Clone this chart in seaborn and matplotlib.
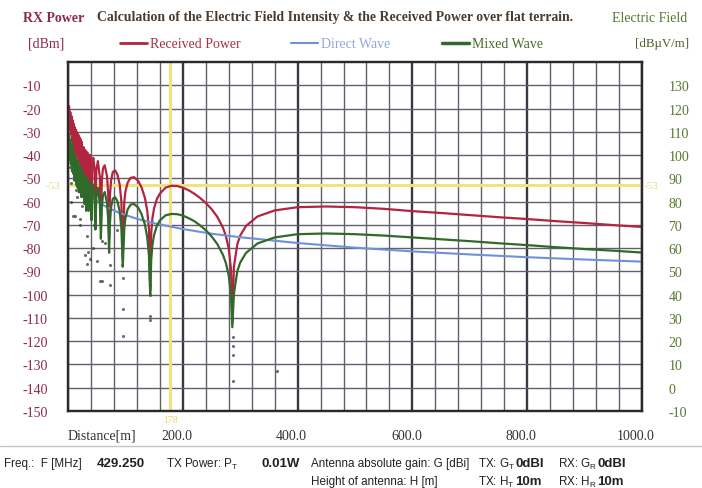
import matplotlib
matplotlib.use("Agg")
import matplotlib.pyplot as plt
from matplotlib.lines import Line2D
from matplotlib.transforms import ScaledTranslation
import seaborn as sns

# sample distances [m] shared by the received power and mixed wave traces
distance = [2, 3, 4, 5, 6, 7, 8, 9, 10, 11, 12, 13, 14, 15, 16, 17, 18, 19, 20, 21, 22, 23, 24,
            25.5, 27.3, 28.6, 30.1, 31.8, 33.7, 35.8, 37, 38.2, 39.5,
            40.9, 42, 44, 46, 47.7, 49.5, 52, 55.5, 57.3, 59,
            61, 64, 68, 70, 71.6, 73, 75, 78, 82, 86,
            90, 93, 95.4, 98, 100, 104, 109, 115, 122, 128,
            134, 138, 141, 143.2, 145, 147, 150, 155, 160, 170,
            180, 190, 200, 210, 220, 230, 240, 250, 260, 270,
            275, 280, 284, 286.3, 289, 295, 300, 310, 330, 360,
            400, 450, 500, 550, 600, 650, 700, 750, 800, 850,
            900, 950, 1000]

# received power [dBm], left axis
received_power = [-19.0, -29, -21.5, -31, -23.3, -34, -25.0, -35, -26.6, -38, -28.0, -37, -29.2, -40,
                  -30.3, -41, -31.3, -43, -32.3, -42, -33.3, -45, -34.4,
                  -46, -36.6, -49, -37.8, -52, -38.8, -56, -42.3, -39.9, -43.3,
                  -60, -46.0, -41.2, -45.3, -64, -46.2, -42.6, -49.5, -70, -50.5,
                  -45.7, -44.4, -49.2, -56.2, -76, -57.8, -51.0, -47.3, -46.6, -48.3,
                  -52.6, -59.9, -84, -60.3, -55.7, -51.8, -49.8, -49.5, -51.0, -53.8,
                  -58.4, -63.8, -71.6, -98, -73.5, -67.3, -62.8, -58.8, -56.6, -54.0,
                  -53.2, -53.3, -54.0, -55.1, -56.6, -58.4, -60.6, -63.2, -66.5, -71.2,
                  -74.8, -80.1, -89.1, -112, -88.1, -78.3, -74.6, -70.5, -66.4, -63.8,
                  -62.4, -62.1, -62.4, -63.1, -64.1, -64.9, -65.8, -66.7, -67.5, -68.4,
                  -69.2, -70.1, -70.9]

# mixed wave field strength [dBuV/m], right axis
mixed_wave = [109, 98, 106.5, 96, 104.7, 93, 103, 92, 101.4, 89, 100, 90, 98.8, 87,
              97.7, 86, 96.7, 84, 95.7, 85, 94.7, 82, 93.6,
              82, 91.9, 79, 90.7, 76, 89.7, 76, 86.2, 88.6, 85.2,
              72, 82.5, 87.3, 83.2, 68, 82.3, 85.9, 79.0, 64, 78.0,
              82.8, 84.1, 79.3, 72.3, 58, 70.7, 77.5, 81.2, 81.9, 80.2,
              75.9, 68.6, 52, 68.2, 72.8, 76.7, 78.7, 79.0, 77.5, 74.7,
              70.1, 64.7, 56.9, 40, 55.0, 61.2, 65.7, 69.7, 71.9, 74.1,
              74.7, 74.6, 74.0, 72.9, 71.6, 69.8, 67.7, 65.1, 61.8, 57.1,
              53.6, 48.3, 39.3, 26, 40.3, 50.1, 53.8, 57.9, 62.0, 64.6,
              66.0, 66.3, 66.0, 65.4, 64.6, 63.8, 63.0, 62.1, 61.3, 60.4,
              59.6, 58.9, 58.1]

# direct wave field strength [dBuV/m], right axis
direct_distance = [2, 4, 7, 10, 15, 20, 30, 40, 55, 70, 90, 120, 150, 200, 250, 300,
                   400, 500, 600, 700, 800, 900, 1000]
direct_wave = [108.2, 102.2, 97.3, 94.2, 90.7, 88.2, 84.7, 82.2, 79.4, 77.3, 75.1, 72.6, 70.7,
               68.2, 66.2, 64.7, 62.2, 60.2, 58.6, 57.3, 56.1, 55.1, 54.2]

# stray sample dots below the traces [m], [dBm]
dot_distance = [3, 5, 6, 8.7, 10, 12, 14, 15, 18, 20.9, 20.9, 24, 25, 28, 29.6, 33, 33, 35,
                38.3, 40, 43.5, 45, 50.4, 55.7, 59, 59, 65, 73, 73, 85, 94,
                95.7, 95.7, 95.7, 142.6, 142.6, 142.6, 142.6, 287, 287, 287, 287, 363.5]
dot_power = [-45, -60, -52, -66, -48, -66, -55, -58, -50, -67.4, -70, -57, -62, -53, -83, -87, -74.6, -81.7,
             -84.6, -63, -80, -70, -85.7, -94, -94, -77, -78, -96, -87.4, -72, -87.4,
             -106, -117.6, -93, -109, -111, -100, -96, -118, -122, -126, -137, -132.6]

x_ticks = [200, 400, 600, 800, 1000]
x_minor = list(range(0, 1001, 40))
power_ticks = list(range(-150, 0, 10))
field_ticks = list(range(-10, 140, 10))
cursor_distance = 178
cursor_power = -53

RED = "#b3243f"
GREEN = "#2f6a2a"
BLUE = "#7090d8"
MAROON = "#8b2a4c"
OLIVE = "#587830"

sns.set_theme(style="white")
plt.rcParams["font.family"] = ["Liberation Serif", "DejaVu Serif"]
plt.rcParams["axes.unicode_minus"] = False
plt.rcParams["mathtext.fontset"] = "custom"
plt.rcParams["mathtext.rm"] = "Liberation Sans"

W, H = 702, 489
fig = plt.figure(figsize=(W / 100, H / 100), dpi=100)
fig.patch.set_facecolor("white")


def fx(px):
    return px / W


def fy(py):
    return 1 - py / H


ax = fig.add_axes([fx(68), fy(412), (642 - 68) / W, (412 - 63) / H])
ax.set_xlim(0, 1000)
ax.set_ylim(-150, 0)

ax.set_xticks(x_ticks, labels=[f"{v:.1f}" for v in x_ticks])
ax.set_xticks(x_minor, minor=True)
ax.set_yticks(power_ticks, labels=[str(v) for v in power_ticks], ha="left")
ax.tick_params(axis="x", which="both", length=0, pad=13, labelsize=10, labelcolor="#333333")
ax.tick_params(axis="y", length=0, pad=32.5, labelsize=10, labelcolor=MAROON)
shift = ScaledTranslation(-0.06, 0, fig.dpi_scale_trans)
for lab in ax.get_xticklabels():
    lab.set_transform(lab.get_transform() + shift)

ax.set_axisbelow(True)
ax.xaxis.grid(True, which="minor", color="#625e6e", lw=1.0)
ax.xaxis.grid(True, which="major", color="#3a3744", lw=1.7)
ax.yaxis.grid(True, which="major", color="#625e6e", lw=1.0)

# cursor
ax.axvline(cursor_distance, color="#f1e27e", lw=2.2, zorder=1.5)
ax.axhline(cursor_power, color="#f1e27e", lw=2.2, zorder=1.5)

sns.lineplot(x=distance, y=received_power, ax=ax, color=RED, lw=1.6, zorder=3)
sns.scatterplot(x=dot_distance, y=dot_power, ax=ax, s=5, color="#3e3f36",
                linewidth=0, alpha=0.75, zorder=4)
ax.set_xlabel("")
ax.set_ylabel("")

ax2 = ax.twinx()
ax2.set_ylim(-10, 140)
sns.lineplot(x=direct_distance, y=direct_wave, ax=ax2, color=BLUE, lw=1.5)
sns.lineplot(x=distance, y=mixed_wave, ax=ax2, color=GREEN, lw=1.6)
ax2.set_yticks(field_ticks, labels=[str(v) for v in field_ticks])
ax2.tick_params(axis="y", length=0, pad=19, labelsize=10, labelcolor=OLIVE)
ax2.grid(False)
ax2.set_xlabel("")
ax2.set_ylabel("")
ax2.set_xlim(0, 1000)

for a in (ax, ax2):
    for sp in a.spines.values():
        sp.set_color("#2a2a2a")
        sp.set_linewidth(1.6)

# header
fig.text(fx(23), fy(18), "RX Power", color=MAROON, fontsize=10, fontweight="bold", va="center")
fig.text(fx(28), fy(44), "[dBm]", color=MAROON, fontsize=10, va="center")
fig.text(fx(97), fy(18),
         "Calculation of the Electric Field Intensity & the Received Power over flat terrain.",
         color="#4a3c30", fontsize=9.9, fontweight="bold", va="center")
fig.text(fx(612), fy(18), "Electric Field", color=OLIVE, fontsize=10, va="center")
fig.text(fx(689), fy(44), "[dBµV/m]", color="#4c5e2a", fontsize=9.3, ha="right", va="center")

legend_items = [(120, RED, 2.0, "Received Power", "#a8304a"),
                (291, BLUE, 1.5, "Direct Wave", "#94a8dc"),
                (442, GREEN, 2.5, "Mixed Wave", "#4c6a2a")]
for x0, col, lw, name, tcol in legend_items:
    fig.add_artist(Line2D([fx(x0), fx(x0 + 27)], [fy(44), fy(44)], color=col, lw=lw))
    fig.text(fx(x0 + 30), fy(44), name, color=tcol, fontsize=10, va="center")

fig.text(fx(68), fy(436), "Distance[m]", color="#333333", fontsize=10, va="center")

# cursor labels
fig.text(fx(171), fy(421), str(cursor_distance), color="#e6d675", fontsize=7, ha="center", va="center")
fig.text(fx(46), fy(187), str(cursor_power), color="#e8d98a", fontsize=8, va="center")
fig.text(fx(644), fy(187), str(cursor_power), color="#e8d98a", fontsize=8, va="center")

# footer
fig.add_artist(Line2D([0, 1], [fy(447), fy(447)], color="#c4c4c4", lw=1.0))
sans = ["Liberation Sans", "DejaVu Sans"]
footer = [
    (4, 464, "Freq.:  F [MHz]", "normal"),
    (97, 464, "429.250", "bold"),
    (166, 464, r"TX Power: P$_\mathregular{T}$", "normal"),
    (262, 464, "0.01W", "bold"),
    (311, 464, "Antenna absolute gain: G [dBi]", "normal"),
    (478, 464, r"TX: G$_\mathregular{T}$", "normal"),
    (515, 464, "0dBI", "bold"),
    (558, 464, r"RX: G$_\mathregular{R}$", "normal"),
    (597, 464, "0dBI", "bold"),
    (311, 482, "Height of antenna: H [m]", "normal"),
    (478, 482, r"TX: H$_\mathregular{T}$", "normal"),
    (515, 482, "10m", "bold"),
    (558, 482, r"RX: H$_\mathregular{R}$", "normal"),
    (597, 482, "10m", "bold"),
]
for x0, y0, txt, wt in footer:
    size = 9.5 if wt == "bold" else 8.4
    fig.text(fx(x0), fy(y0), txt, family=sans, fontsize=size, fontweight=wt,
             color="#222222", va="center")

fig.savefig("out.png", dpi=100)
